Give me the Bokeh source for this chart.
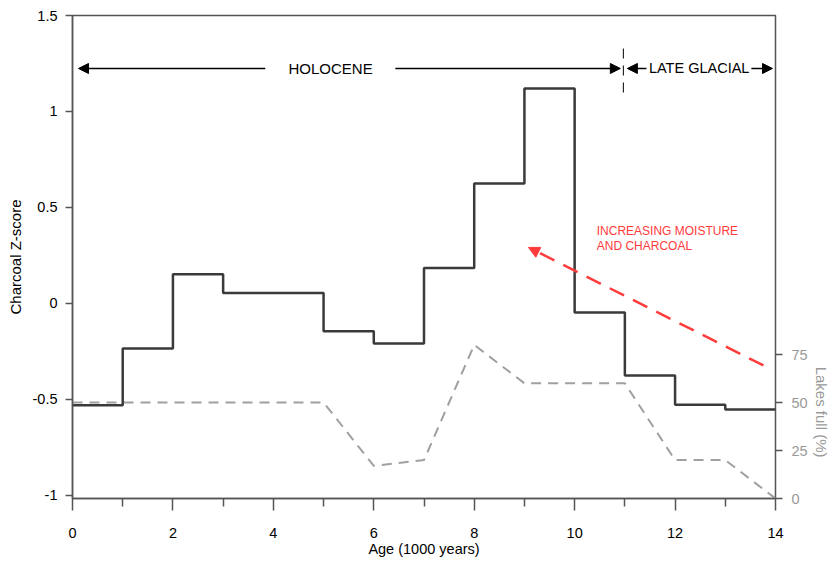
from bokeh.plotting import figure
from bokeh.models import (Range1d, LinearAxis, FixedTicker, CustomJSTickFormatter,
                          Arrow, NormalHead, Title)
from bokeh.core.properties import value
from bokeh.embed import file_html
from bokeh.resources import INLINE

# ---- data ----
bin_start = [0, 1, 2, 3, 4, 5, 6, 7, 8, 9, 10, 11, 12, 13]
charcoal_z = [-0.53, -0.235, 0.152, 0.055, 0.055, -0.145, -0.208, 0.185, 0.625, 1.12,
              -0.047, -0.375, -0.527, -0.552]
lake_age = [0, 1, 2, 3, 4, 5, 6, 7, 8, 9, 10, 11, 12, 13, 14]
lakes_full = [50, 50, 50, 50, 50, 50, 17, 20, 80, 60, 60, 60, 20, 20, 0]
x_major = [0, 2, 4, 6, 8, 10, 12, 14]
x_minor = [1, 3, 5, 7, 9, 11, 13]
z_ticks = [-1, -0.5, 0, 0.5, 1, 1.5]
lake_ticks = [0, 25, 50, 75]

FONT = "Liberation Sans"
Y0, Y1 = -1.016, 1.5

p = figure(width=835, height=562, output_backend="svg", toolbar_location=None,
           x_range=Range1d(0, 14), y_range=Range1d(Y0, Y1),
           min_border_left=72, min_border_right=60, min_border_top=15, min_border_bottom=64)
p.extra_y_ranges = {"lakes": Range1d(0, (Y1 - Y0) * 100)}
p.xgrid.visible = False
p.ygrid.visible = False
p.outline_line_color = "#555555"
p.outline_line_width = 1.5
p.background_fill_color = "white"
p.border_fill_color = "white"

# x axis
xa = p.xaxis[0]
xa.ticker = FixedTicker(ticks=x_major, minor_ticks=x_minor)
xa.axis_label = "Age (1000 years)"
xa.axis_line_color = "#555555"
xa.axis_line_width = 1.5
xa.major_tick_line_color = "#555555"
xa.major_tick_line_width = 1.5
xa.minor_tick_line_color = "#555555"
xa.minor_tick_line_width = 1.5
xa.major_tick_in = 0
xa.major_tick_out = 12
xa.minor_tick_in = 0
xa.minor_tick_out = 8
xa.major_label_standoff = 17
xa.axis_label_standoff = 0
xa.major_label_text_font = FONT
xa.major_label_text_font_size = "14.5px"
xa.major_label_text_color = "black"
xa.axis_label_text_font = FONT
xa.axis_label_text_font_size = "14.5px"
xa.axis_label_text_font_style = "normal"
xa.axis_label_text_color = "black"

# left axis
ya = p.yaxis[0]
ya.ticker = FixedTicker(ticks=z_ticks, minor_ticks=[])
ya.formatter = CustomJSTickFormatter(code="return String(tick)")
ya.axis_label = "Charcoal Z-score"
ya.axis_line_color = "#555555"
ya.axis_line_width = 1.5
ya.major_tick_line_color = "#555555"
ya.major_tick_line_width = 1.5
ya.major_tick_in = 0
ya.major_tick_out = 7
ya.minor_tick_line_color = None
ya.major_label_standoff = 8
ya.axis_label_standoff = 6
ya.major_label_text_font = FONT
ya.major_label_text_font_size = "14.5px"
ya.major_label_text_color = "black"
ya.axis_label_text_font = FONT
ya.axis_label_text_font_size = "15px"
ya.axis_label_text_font_style = "normal"
ya.axis_label_text_color = "black"

# right axis (lakes full)
ra = LinearAxis(y_range_name="lakes",
                ticker=FixedTicker(ticks=lake_ticks, minor_ticks=[]), bounds=(0, 75))
ra.axis_line_color = None
ra.major_tick_line_color = "#555555"
ra.major_tick_line_width = 1.5
ra.major_tick_in = 0
ra.major_tick_out = 7
ra.minor_tick_line_color = None
ra.major_label_standoff = 9
ra.major_label_text_font = FONT
ra.major_label_text_font_size = "14.5px"
ra.major_label_text_color = "#999999"
p.add_layout(ra, "right")
p.add_layout(Title(text="Lakes full (%)", align="right", offset=41, standoff=4,
                   text_font=FONT, text_font_size="15px", text_font_style="normal",
                   text_color="#999999"), "right")

# lakes dashed line
p.line(lake_age, lakes_full, y_range_name="lakes", line_color="#a0a0a0",
       line_width=2, line_dash="10 7")

# charcoal step line
step_x = bin_start + [14]
step_y = charcoal_z + [charcoal_z[-1]]
p.step(step_x, step_y, mode="after", line_color="#3a3a3a", line_width=2.5)

# period annotations
ann_y = 1.224
def arrow(x0, x1, y, color="black", width=1.5, dash="solid", size=10):
    p.add_layout(Arrow(end=NormalHead(size=size, fill_color=color, line_color=color, line_width=1),
                       x_start=x0, y_start=y, x_end=x1, y_end=y,
                       line_color=color, line_width=width, line_dash=dash))

arrow(3.84, 0.12, ann_y)
arrow(6.43, 10.91, ann_y)
arrow(11.43, 11.05, ann_y)
arrow(13.52, 13.94, ann_y)
p.segment(x0=[10.97], y0=[1.328], x1=[10.97], y1=[1.094], line_color="black",
          line_width=1, line_dash="10 7")
p.text(x=[5.14], y=[ann_y], text=["HOLOCENE"], text_font=value(FONT),
       text_font_size="15px", text_align="center", text_baseline="middle", text_color="black")
p.text(x=[12.48], y=[ann_y], text=["LATE GLACIAL"], text_font=value(FONT),
       text_font_size="14.5px", text_align="center", text_baseline="middle", text_color="black")

# moisture arrow and label
red = "#ff3b3b"
p.add_layout(Arrow(end=NormalHead(size=11, fill_color=red, line_color=red, line_width=1),
                   x_start=13.76, y_start=-0.323, x_end=9.08, y_end=0.292,
                   line_color=red, line_width=2.5, line_dash="16 10"))
p.text(x=[10.44, 10.44], y=[0.380, 0.297], text=["INCREASING MOISTURE", "AND CHARCOAL"],
       text_font=value(FONT), text_font_size="12px", text_align="left",
       text_baseline="middle", text_color=red)

open("out.html", "w").write(file_html(p, INLINE))
